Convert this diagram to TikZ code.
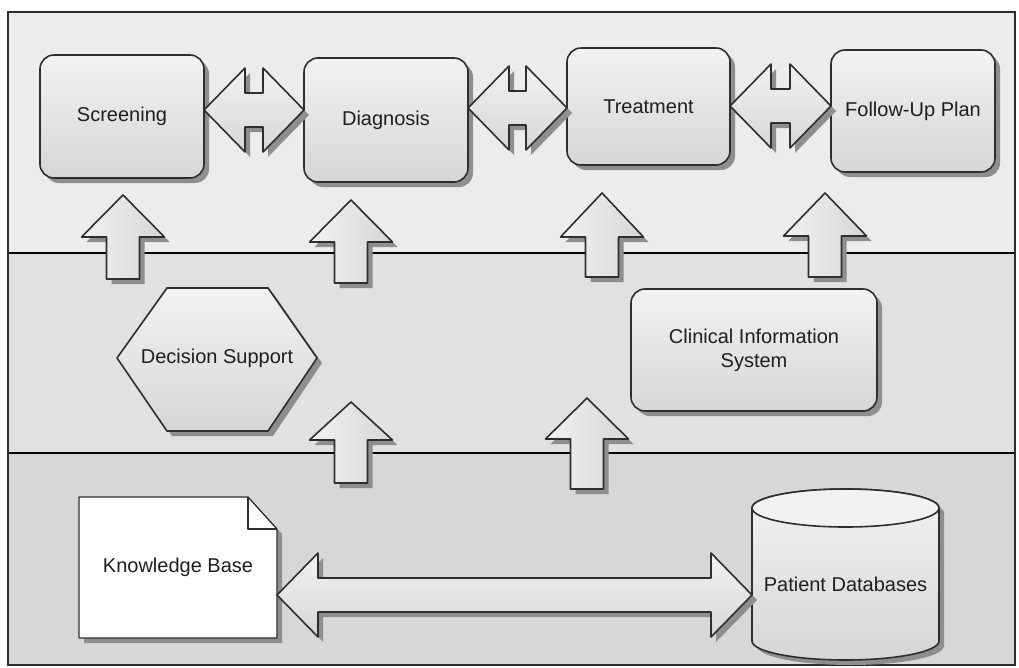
\documentclass[tikz,border=0pt]{standalone}
\usepackage{fontspec}
\setmainfont{Liberation Sans}
\usetikzlibrary{calc}

\definecolor{bandtop}{HTML}{ECECEC}
\definecolor{bandmid}{HTML}{E1E1E1}
\definecolor{bandlow}{HTML}{D7D7D7}
\definecolor{edge}{HTML}{2E2E2E}
\definecolor{fillhi}{HTML}{F2F2F2}
\definecolor{filllo}{HTML}{D6D6D6}
\definecolor{shadowc}{HTML}{8E8E8E}

% up-pointing block arrow: centre x, tip y, head base y, shaft bottom y
\newcommand\liftarrow[4]{%
  \path[blockv] (#1,#2) -- (#1+41.5,#3) -- (#1+16.5,#3) -- (#1+16.5,#4)
    -- (#1-16.5,#4) -- (#1-16.5,#3) -- (#1-41.5,#3) -- cycle;}

% two-headed block arrow between two anchors, along the line y = #3
\newcommand\twinarrow[3]{%
  \path[blockh] let \p1=(#1), \p2=(#2) in
    (\x1,-#3pt) -- (\x1+41pt,-#3pt+42pt) -- (\x1+41pt,-#3pt+17pt)
    -- (\x2-41pt,-#3pt+17pt) -- (\x2-41pt,-#3pt+42pt) -- (\x2,-#3pt)
    -- (\x2-41pt,-#3pt-42pt) -- (\x2-41pt,-#3pt-17pt)
    -- (\x1+41pt,-#3pt-17pt) -- (\x1+41pt,-#3pt-42pt) -- cycle;}

\begin{document}
\begin{tikzpicture}[x=1pt,y=-1pt,
  every node/.style={font=\fontsize{20}{24}\selectfont, text=black!88},
  outline/.style={draw=edge, line width=1.6pt, line join=round},
  shadowed/.style={preaction={fill=shadowc, draw=none,
      transform canvas={shift={(5pt,-5pt)}}}},
  stage/.style={outline, shadowed, rounded corners=14pt, top color=fillhi,
    bottom color=filllo, inner sep=0pt, outer sep=0pt, align=center},
  label/.style={inner sep=0pt, outer sep=0pt, align=center},
  blockh/.style={outline, shadowed, top color=fillhi, bottom color=filllo},
  blockv/.style={outline, shadowed, left color=fillhi, right color=filllo},
  hexa/.style={outline, shadowed, top color=fillhi, bottom color=filllo},
  paper/.style={outline, line width=1.3pt, fill=white, shadowed},
]
\useasboundingbox (0,0) rectangle (1019,667);
\fill[white] (0,0) rectangle (1019,667);

% three layers
\fill[bandtop] (8,12) rectangle (1015,253);
\fill[bandmid] (8,253) rectangle (1015,453);
\fill[bandlow] (8,453) rectangle (1015,665);
\draw[black, line width=1.8pt] (8,253) -- (1015,253);
\draw[black, line width=1.8pt] (8,453) -- (1015,453);
\draw[edge, line width=1.6pt] (8,12) rectangle (1015,665);

% care pathway
\node[stage, minimum width=164pt, minimum height=123pt] (scr) at (122,116.5) {Screening};
\node[stage, minimum width=164pt, minimum height=124pt] (dia) at (386,120) {Diagnosis};
\node[stage, minimum width=163pt, minimum height=117pt] (trt) at (648.5,106.5) {Treatment};
\node[stage, minimum width=164pt, minimum height=122pt] (fup) at (913,111) {Follow-Up Plan};

\twinarrow{scr.east}{dia.west}{110}
\twinarrow{dia.east}{trt.west}{108}
\twinarrow{trt.east}{fup.west}{106}

% support layer
\path[hexa] (117,358) -- (167,288) -- (268,288) -- (317,358) -- (268,431) -- (167,431) -- cycle;
\node[label] (ds) at (217,358) {Decision Support};
\node[stage, minimum width=246pt, minimum height=122pt] (cis) at (754,350) {Clinical Information\\System};

\liftarrow{123}{195}{237}{279}
\liftarrow{351}{200}{242}{283}
\liftarrow{602}{193}{237}{277}
\liftarrow{825}{193}{236}{277}
\liftarrow{351}{402}{440}{483}
\liftarrow{587}{398}{439}{489}

% data layer
\path[paper] (79,497) -- (248,497) -- (277,529) -- (277,638) -- (79,638) -- cycle;
\draw[edge, line width=1.3pt, line join=round] (248,497) -- (248,529) -- (277,529);
\node[label, minimum width=198pt, minimum height=141pt] (kb) at (178,567.5) {Knowledge Base};

\path[outline, shadowed, top color=fillhi, bottom color=filllo]
  (752,508) .. controls (752,497.5) and (793.9,489) .. (845.5,489)
  .. controls (897.1,489) and (939,497.5) .. (939,508) -- (939,641)
  .. controls (939,651.5) and (897.1,660) .. (845.5,660)
  .. controls (793.9,660) and (752,651.5) .. (752,641) -- cycle;
\draw[outline, fill=fillhi] (845.5,508) ellipse [x radius=93.5, y radius=19];
\node[label, minimum width=187pt] (db) at (845.5,584) {Patient Databases};

\twinarrow{kb.east}{db.west}{595}
\end{tikzpicture}
\end{document}
